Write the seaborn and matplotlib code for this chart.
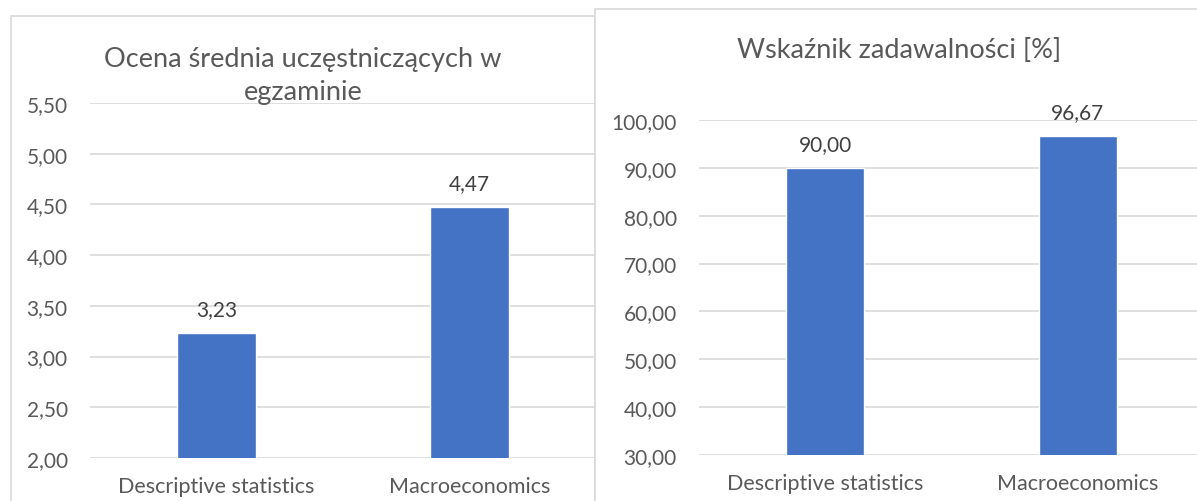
import matplotlib
matplotlib.use("Agg")
import matplotlib.pyplot as plt
from matplotlib.patches import Rectangle
from matplotlib.ticker import FuncFormatter, MultipleLocator
import seaborn as sns
import pandas as pd

# data
categories = ["Descriptive statistics", "Macroeconomics"]
avg_grade = [3.23, 4.47]
satisfaction = [90.00, 96.67]

title_left = "Ocena średnia uczęstniczących w\negzaminie"
title_right = "Wskaźnik zadawalności [%]"

BAR = "#4472C4"
GRID = "#D9D9D9"
TXT = "#595959"

sns.set_style("white")
plt.rcParams["font.family"] = ["Lato", "DejaVu Sans"]

W, H = 1197, 502
fig = plt.figure(figsize=(W / 100, H / 100), dpi=100)


def px_rect(x0, y0, x1, y1):
    # pixel box (top-left origin) -> figure fraction
    return [x0 / W, 1 - y1 / H, (x1 - x0) / W, (y1 - y0) / H]


def comma(v, _=None):
    return f"{v:.2f}".replace(".", ",")


# chart borders
fig.patches.append(Rectangle((11 / W, -0.1), (595 - 11) / W, 1.1 - 17 / H,
                             transform=fig.transFigure, facecolor="white",
                             edgecolor=GRID, lw=1.2, zorder=-2))
fig.patches.append(Rectangle((595 / W, -0.1), 0.6, 1.1 - 10 / H,
                             transform=fig.transFigure, facecolor="white",
                             edgecolor=GRID, lw=1.2, zorder=-1))


def draw(rect, values, ylim, step, title, title_xy):
    ax = fig.add_axes(px_rect(*rect))
    ax.patch.set_alpha(0)
    df = pd.DataFrame({"cat": categories, "val": values})
    sns.barplot(data=df, x="cat", y="val", color=BAR, width=0.31,
                saturation=1, ax=ax, zorder=3)
    ax.set_xlim(-0.5, 1.5)
    ax.set_ylim(*ylim)
    ax.yaxis.set_major_locator(MultipleLocator(step))
    ax.yaxis.set_major_formatter(FuncFormatter(comma))
    ax.grid(axis="y", color=GRID, lw=1.2, zorder=0)
    ax.grid(axis="x", visible=False)
    for s in ax.spines.values():
        s.set_visible(False)
    ax.tick_params(axis="x", length=0, labelsize=15.5, colors=TXT, pad=13)
    ax.tick_params(axis="y", length=0, labelsize=15, colors=TXT, pad=16)
    ax.set_xlabel("")
    ax.set_ylabel("")
    ax.bar_label(ax.containers[0], labels=[comma(v) for v in values],
                 padding=10, fontsize=15, color="#404040")
    fig.text(title_xy[0] / W, 1 - title_xy[1] / H, title, ha="center",
             va="center", fontsize=19.5, color=TXT, linespacing=1.42)
    return ax


draw((90, 104, 596, 459), avg_grade, (2.0, 5.5), 0.5, title_left, (303, 76))
draw((699, 121, 1204, 456), satisfaction, (30, 100), 10, title_right, (899, 50))

fig.savefig("out.png", dpi=100)
